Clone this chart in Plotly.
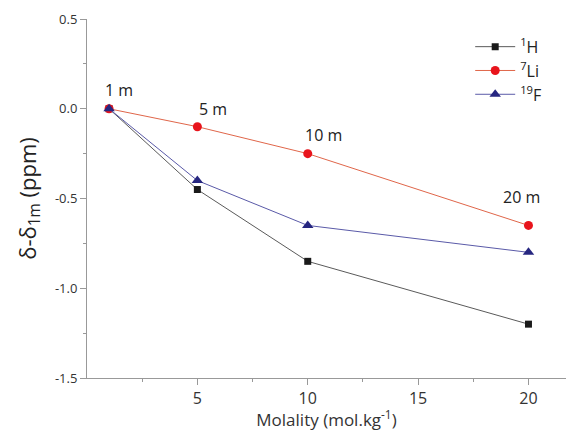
import plotly.graph_objects as go

molality = [1, 5, 10, 20]
h1 = [0, -0.45, -0.85, -1.2]
li7 = [0, -0.1, -0.25, -0.65]
f19 = [0, -0.4, -0.65, -0.8]
series_names = ["<sup>1</sup>H", "<sup>7</sup>Li", "<sup>19</sup>F"]
label_text = ["1 m", "5 m", "10 m", "20 m"]
label_x = [1.45, 5.7, 10.7, 19.7]
label_y = [0.105, 0.0, -0.145, -0.49]

FONT = "Open Sans"
fig = go.Figure()
fig.add_trace(go.Scatter(x=molality, y=h1, name=series_names[0], mode="lines+markers",
                         line=dict(color="#5a5a5a", width=1),
                         marker=dict(symbol="square", size=7, color="#1a1a1a")))
fig.add_trace(go.Scatter(x=molality, y=li7, name=series_names[1], mode="lines+markers",
                         line=dict(color="#e0664a", width=1),
                         marker=dict(symbol="circle", size=9, color="#e8141c")))
fig.add_trace(go.Scatter(x=molality, y=f19, name=series_names[2], mode="lines+markers",
                         line=dict(color="#5a5aa8", width=1),
                         marker=dict(symbol="triangle-up", size=10, color="#262680")))

for t, x, y in zip(label_text, label_x, label_y):
    fig.add_annotation(x=x, y=y, text=t, showarrow=False,
                       font=dict(family=FONT, size=16, color="#222"))

fig.update_layout(
    width=566, height=431,
    margin=dict(l=87, r=0, t=19, b=53),
    plot_bgcolor="white", paper_bgcolor="white",
    font=dict(family=FONT, color="#333"),
    showlegend=True,
    legend=dict(x=0.8, y=0.97, xanchor="left", yanchor="top",
                font=dict(family=FONT, size=16, color="#222"),
                bgcolor="rgba(0,0,0,0)", itemwidth=40, tracegroupgap=0),
    xaxis=dict(range=[0, 21.7], tickvals=[5, 10, 15, 20], showgrid=False, zeroline=False,
               showline=True, linecolor="#999", linewidth=1,
               ticks="outside", ticklen=6, tickcolor="#999",
               minor=dict(tickvals=[2.5, 7.5, 12.5, 17.5], ticks="outside", ticklen=3, tickcolor="#999"),
               tickfont=dict(size=16, color="#333"),
               title=dict(text="Molality (mol.kg<sup>-1</sup>)", font=dict(size=17, color="#333"), standoff=0)),
    yaxis=dict(range=[-1.5, 0.5], tickvals=[-1.5, -1.0, -0.5, 0.0, 0.5],
               ticktext=["-1.5", "-1.0", "-0.5", "0.0", "0.5"],
               showgrid=False, zeroline=False,
               showline=True, linecolor="#999", linewidth=1,
               ticks="outside", ticklen=6, tickcolor="#999",
               minor=dict(tickvals=[-1.25, -0.75, -0.25, 0.25], ticks="outside", ticklen=3, tickcolor="#999"),
               tickfont=dict(size=13, color="#333"),
               title=dict(text="δ-δ<sub>1m</sub> (ppm)", font=dict(size=22, color="#222"), standoff=12)),
)

fig.write_html("out.html")
